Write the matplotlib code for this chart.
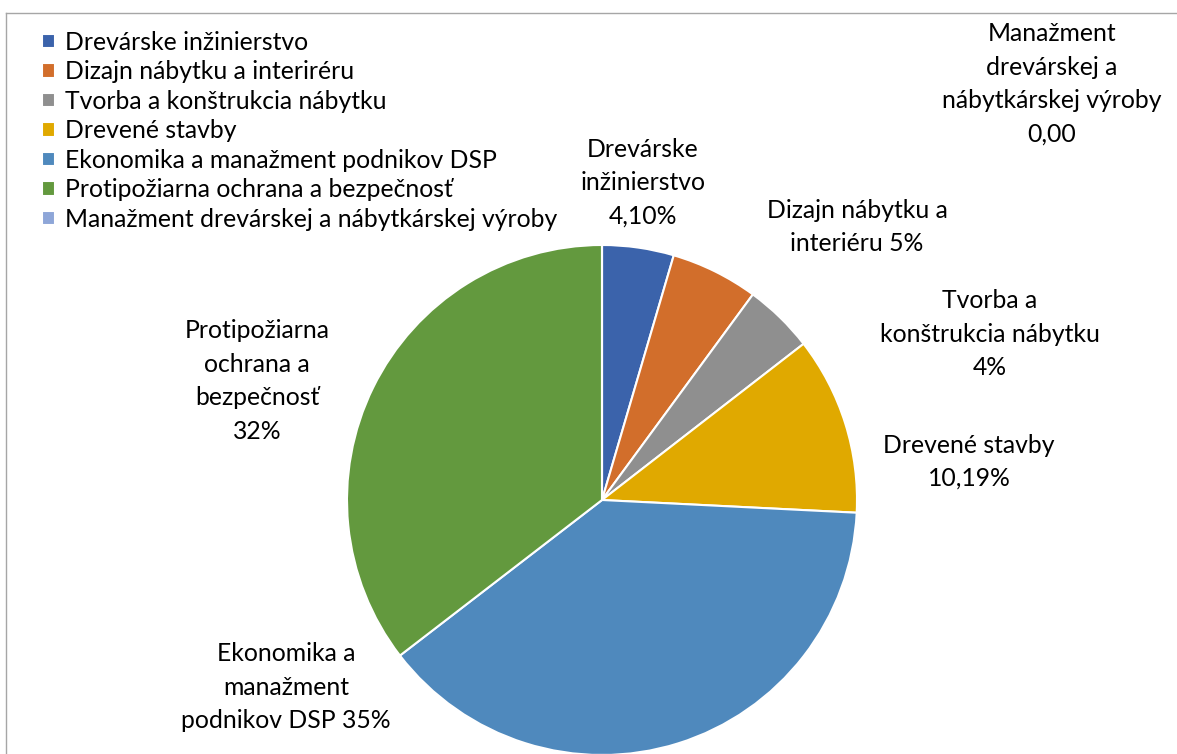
import matplotlib
matplotlib.use("Agg")
import matplotlib.pyplot as plt
from matplotlib.lines import Line2D

# Study programmes and their shares
categories = [
    "Drevárske inžinierstvo",
    "Dizajn nábytku a interiréru",
    "Tvorba a konštrukcia nábytku",
    "Drevené stavby",
    "Ekonomika a manažment podnikov DSP",
    "Protipožiarna ochrana a bezpečnosť",
    "Manažment drevárskej a nábytkárskej výroby",
]
values = [4.10, 5, 4, 10.19, 35, 32, 0.00]
label_decimals = [2, 0, 0, 2, 0, 0, 2]
label_units = ["%", "%", "%", "%", "%", "%", ""]
label_templates = [
    "Drevárske\ninžinierstvo\n{}",
    "Dizajn nábytku a\ninteriéru {}",
    "Tvorba a\nkonštrukcia nábytku\n{}",
    "Drevené stavby\n{}",
    "Ekonomika a\nmanažment\npodnikov DSP {}",
    "Protipožiarna\nochrana a\nbezpečnosť\n{}",
    "Manažment\ndrevárskej a\nnábytkárskej výroby\n{}",
]
colors = ["#3B63AB", "#D26E2B", "#8F8F8F", "#E0A900", "#4F89BD", "#63993E", "#8EA6D8"]

# Label anchor points in pie units (radius = 1)
label_xy = [
    (0.161, 1.245),
    (1.000, 1.070),
    (1.520, 0.650),
    (1.440, 0.150),
    (-1.240, -0.735),
    (-1.353, 0.467),
    (1.765, 1.631),
]

plt.rcParams["font.family"] = ["Lato", "DejaVu Sans"]
FS = 17.8

fig = plt.figure(figsize=(11.77, 7.54), dpi=100)
fig.patch.set_facecolor("white")

ax = fig.add_axes([347 / 1177, -1 / 754, 510 / 1177, 510 / 754])
wedges, _ = ax.pie(
    values,
    colors=colors,
    startangle=90,
    counterclock=False,
    radius=1,
    wedgeprops=dict(edgecolor="white", linewidth=1.5),
)
ax.set_xlim(-1, 1)
ax.set_ylim(-1, 1)
ax.set_aspect("equal")
ax.axis("off")

for tmpl, v, d, u, (x, y) in zip(label_templates, values, label_decimals, label_units, label_xy):
    num = f"{v:.{d}f}".replace(".", ",") + u
    ax.text(x, y, tmpl.format(num), ha="center", va="center", multialignment="center",
            fontsize=FS, color="black", linespacing=1.55, clip_on=False)

fig.legend(
    wedges, categories,
    loc="upper left", bbox_to_anchor=(42 / 1177, 1 - 31 / 754),
    frameon=False, fontsize=FS, borderpad=0, borderaxespad=0,
    handlelength=0.52, handleheight=0.52, handletextpad=0.4, labelspacing=0.26,
)

# chart area border
border = "#A6A6A6"
fig.add_artist(Line2D([6 / 1177, 6 / 1177], [0, 1 - 13 / 754], color=border, lw=1,
                      transform=fig.transFigure))
fig.add_artist(Line2D([6 / 1177, 1], [1 - 13 / 754, 1 - 13 / 754], color=border, lw=1,
                      transform=fig.transFigure))

fig.savefig("out.png", dpi=100)
